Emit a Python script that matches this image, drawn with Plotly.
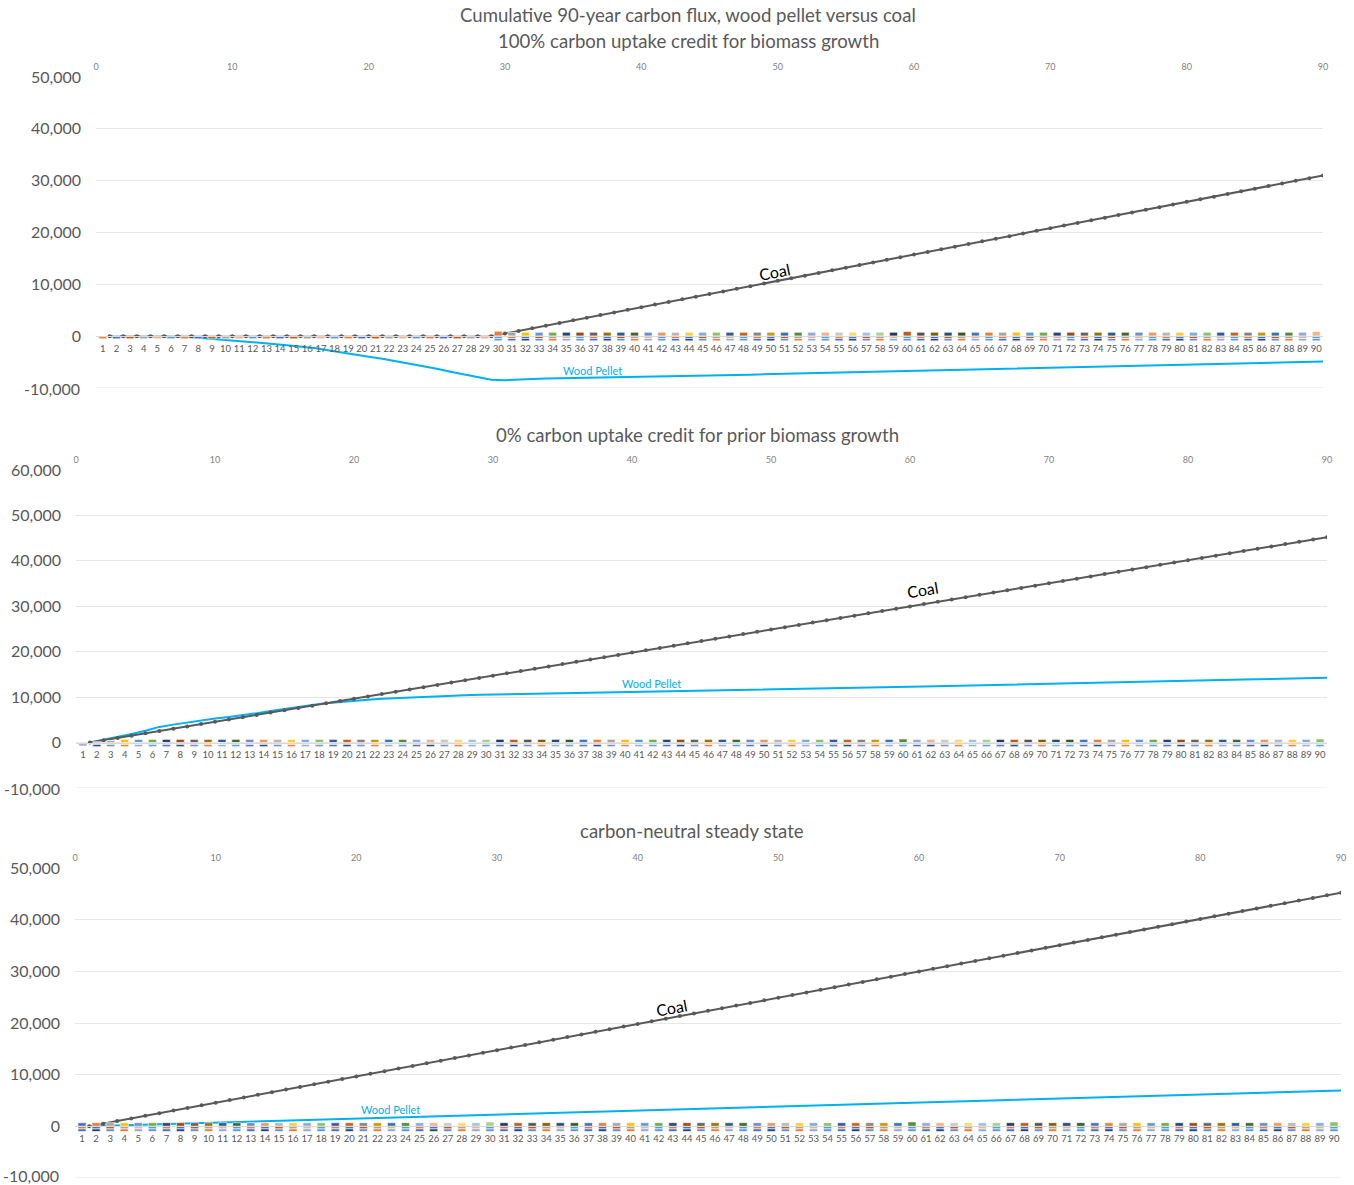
import plotly.graph_objects as go

# ---------------- data ----------------
years = list(range(1, 91))
category_labels = [str(y) for y in years]

# panel 1: 100% carbon uptake credit for biomass growth
coal_credit = [0, 0, 0, 0, 0, 0, 0, 0, 0, 0, 0, 0, 0, 0, 0, 0, 0, 0, 0, 0,
               0, 0, 0, 0, 0, 0, 0, 0, 0, 510, 1020, 1520, 2030, 2540, 3050, 3560, 4060, 4570, 5080, 5590,
               6100, 6600, 7110, 7620, 8130, 8640, 9140, 9650, 10160, 10670, 11180, 11680, 12190, 12700, 13210,
               13720, 14220, 14730, 15240, 15750, 16260, 16760, 17270, 17780, 18290, 18800, 19300, 19810, 20320,
               20830, 21340, 21840, 22350, 22860, 23370, 23880, 24380, 24890, 25400, 25910, 26420, 26920, 27430,
               27940, 28450, 28960, 29460, 29970, 30480, 30990]
pellet_credit = [0, 0, 0, 0, 0, -50, -200, -400, -600, -850,
                 -1050, -1250, -1500, -1750, -2000, -2300, -2700, -3150, -3550, -3950,
                 -4350, -4800, -5300, -5800, -6300, -6850, -7400, -7950, -8400, -8500,
                 -8350, -8250, -8180, -8130, -8090, -8050, -8010, -7970, -7930, -7890,
                 -7840, -7780, -7720, -7660, -7600, -7540, -7480, -7420, -7360, -7300,
                 -7240, -7180, -7120, -7060, -7000, -6940, -6880, -6820, -6760, -6700,
                 -6640, -6580, -6520, -6460, -6400, -6340, -6280, -6220, -6160, -6100,
                 -6040, -5980, -5920, -5860, -5800, -5740, -5680, -5620, -5560, -5500,
                 -5440, -5380, -5320, -5260, -5200, -5140, -5080, -5020, -4960, -4900]

# panels 2 and 3: coal (no prior-growth credit)
coal_no_credit = [0, 508, 1016, 1524, 2032, 2540, 3048, 3556, 4064, 4572,
                  5080, 5588, 6096, 6604, 7112, 7620, 8128, 8636, 9144, 9652,
                  10160, 10668, 11176, 11684, 12192, 12700, 13208, 13716, 14224, 14732,
                  15240, 15748, 16256, 16764, 17272, 17780, 18288, 18796, 19304, 19812,
                  20320, 20828, 21336, 21844, 22352, 22860, 23368, 23876, 24384, 24892,
                  25400, 25908, 26416, 26924, 27432, 27940, 28448, 28956, 29464, 29972,
                  30480, 30988, 31496, 32004, 32512, 33020, 33528, 34036, 34544, 35052,
                  35560, 36068, 36576, 37084, 37592, 38100, 38608, 39116, 39624, 40132,
                  40640, 41148, 41656, 42164, 42672, 43180, 43688, 44196, 44704, 45212]
pellet_no_credit = [0, 600, 1250, 1900, 2600, 3450, 3950, 4450, 4900, 5300,
                    5650, 6000, 6450, 6950, 7450, 7900, 8300, 8650, 8950, 9200,
                    9450, 9650, 9800, 9950, 10100, 10200, 10300, 10400, 10500, 10600,
                    10650, 10700, 10750, 10800, 10850, 10900, 10950, 11000, 11050, 11100,
                    11150, 11200, 11250, 11300, 11350, 11400, 11450, 11500, 11550, 11600,
                    11670, 11740, 11800, 11870, 11940, 12000, 12070, 12140, 12200, 12270,
                    12340, 12400, 12470, 12540, 12600, 12670, 12740, 12800, 12870, 12940,
                    13000, 13070, 13140, 13200, 13270, 13340, 13400, 13470, 13540, 13600,
                    13670, 13740, 13800, 13870, 13940, 14000, 14070, 14140, 14200, 14270]
pellet_steady = [0, 80, 150, 230, 310, 390, 470, 550, 620, 700,
                 780, 860, 940, 1010, 1090, 1170, 1250, 1330, 1400, 1480,
                 1560, 1640, 1720, 1790, 1870, 1950, 2030, 2110, 2180, 2260,
                 2340, 2420, 2500, 2570, 2650, 2730, 2810, 2890, 2960, 3040,
                 3120, 3200, 3280, 3350, 3430, 3510, 3590, 3670, 3740, 3820,
                 3900, 3980, 4060, 4130, 4210, 4290, 4370, 4450, 4520, 4600,
                 4680, 4760, 4840, 4910, 4990, 5070, 5150, 5230, 5300, 5380,
                 5460, 5540, 5620, 5690, 5770, 5850, 5930, 6010, 6080, 6160,
                 6240, 6320, 6400, 6470, 6550, 6630, 6710, 6790, 6860, 6940]

# small stacked annual flux columns (cap above zero, two segments below)
flux_up_1 = [0, 0, 0, 0, 0, 0, 0, 0, 0, 0, 0, 0, 0, 0, 0, 0, 0, 0, 0, 0,
             0, 0, 0, 0, 0, 0, 0, 0, 0, 950, 750, 750, 750, 750, 750, 750, 750, 750, 750, 750,
             750, 750, 750, 750, 750, 750, 750, 750, 750, 750, 750, 750, 750, 750, 750, 750, 750, 750, 750, 900,
             750, 750, 750, 750, 750, 750, 750, 750, 750, 750, 750, 750, 750, 750, 750, 750, 750, 750, 750, 750,
             750, 750, 750, 750, 750, 750, 750, 750, 750, 900]
flux_mid_1 = [-500, -500, -500, -500, -500, -500, -500, -500, -500, -500, -500, -500, -500, -500, -500,
              -500, -500, -500, -500, -500, -500, -500, -500, -500, -500, -500, -500, -500, -500,
              -450, -450, -450, -450, -450, -450, -450, -450, -450, -450, -450, -450, -450, -450, -450,
              -450, -450, -450, -450, -450, -450, -450, -450, -450, -450, -450, -450, -450, -450, -450,
              -450, -450, -450, -450, -450, -450, -450, -450, -450, -450, -450, -450, -450, -450, -450,
              -450, -450, -450, -450, -450, -450, -450, -450, -450, -450, -450, -450, -450, -450, -450, -450]
flux_low_1 = [0, 0, 0, 0, 0, 0, 0, 0, 0, 0, 0, 0, 0, 0, 0, 0, 0, 0, 0, 0,
              0, 0, 0, 0, 0, 0, 0, 0, 0, -450, -450, -450, -450, -450, -450, -450, -450, -450, -450, -450,
              -450, -450, -450, -450, -450, -450, -450, -450, -450, -450, -450, -450, -450, -450, -450,
              -450, -450, -450, -450, -450, -450, -450, -450, -450, -450, -450, -450, -450, -450, -450,
              -450, -450, -450, -450, -450, -450, -450, -450, -450, -450, -450, -450, -450, -450, -450,
              -450, -450, -450, -450, -450, -450]
flux_up_2 = [0, 200, 450, 700, 700, 700, 700, 700, 700, 700, 700, 700, 700, 700, 700, 700, 700, 700, 700, 700,
             700, 700, 700, 700, 700, 700, 700, 700, 700, 700, 700, 700, 700, 700, 700, 700, 700, 700, 700, 700,
             700, 700, 700, 700, 700, 700, 700, 700, 700, 700, 700, 700, 700, 700, 700, 700, 700, 700, 700, 800,
             700, 700, 700, 700, 700, 700, 700, 700, 700, 700, 700, 700, 700, 700, 700, 700, 700, 700, 700, 700,
             700, 700, 700, 700, 700, 700, 700, 700, 700, 800]
flux_mid_2 = [-350, -450, -450, -450, -450, -450, -450, -450, -450, -450, -450, -450, -450, -450, -450,
              -450, -450, -450, -450, -450, -450, -450, -450, -450, -450, -450, -450, -450, -450, -450,
              -450, -450, -450, -450, -450, -450, -450, -450, -450, -450, -450, -450, -450, -450, -450,
              -450, -450, -450, -450, -450, -450, -450, -450, -450, -450, -450, -450, -450, -450, -450,
              -450, -450, -450, -450, -450, -450, -450, -450, -450, -450, -450, -450, -450, -450, -450,
              -450, -450, -450, -450, -450, -450, -450, -450, -450, -450, -450, -450, -450, -450, -450]
flux_low_2 = [-350, -450, -450, -450, -450, -450, -450, -450, -450, -450, -450, -450, -450, -450, -450,
              -450, -450, -450, -450, -450, -450, -450, -450, -450, -450, -450, -450, -450, -450, -450,
              -450, -450, -450, -450, -450, -450, -450, -450, -450, -450, -450, -450, -450, -450, -450,
              -450, -450, -450, -450, -450, -450, -450, -450, -450, -450, -450, -450, -450, -450, -450,
              -450, -450, -450, -450, -450, -450, -450, -450, -450, -450, -450, -450, -450, -450, -450,
              -450, -450, -450, -450, -450, -450, -450, -450, -450, -450, -450, -450, -450, -450, -450]
flux_up_3 = [700, 700, 700, 700, 700, 700, 700, 700, 700, 700, 700, 700, 700, 700, 700, 700, 700, 700, 700, 700,
             700, 700, 700, 700, 700, 700, 700, 700, 700, 850, 700, 700, 700, 700, 700, 700, 700, 700, 700, 700,
             700, 700, 700, 700, 700, 700, 700, 700, 700, 700, 700, 700, 700, 700, 700, 700, 700, 700, 700, 850,
             700, 700, 700, 700, 700, 700, 700, 700, 700, 700, 700, 700, 700, 700, 700, 700, 700, 700, 700, 700,
             700, 700, 700, 700, 700, 700, 700, 700, 700, 850]
flux_mid_3 = [-500, -500, -500, -500, -500, -500, -500, -500, -500, -500, -500, -500, -500, -500, -500,
              -500, -500, -500, -500, -500, -500, -500, -500, -500, -500, -500, -500, -500, -500, -500,
              -500, -500, -500, -500, -500, -500, -500, -500, -500, -500, -500, -500, -500, -500, -500,
              -500, -500, -500, -500, -500, -500, -500, -500, -500, -500, -500, -500, -500, -500, -500,
              -500, -500, -500, -500, -500, -500, -500, -500, -500, -500, -500, -500, -500, -500, -500,
              -500, -500, -500, -500, -500, -500, -500, -500, -500, -500, -500, -500, -500, -500, -500]
flux_low_3 = [-500, -500, -500, -500, -500, -500, -500, -500, -500, -500, -500, -500, -500, -500, -500,
              -500, -500, -500, -500, -500, -500, -500, -500, -500, -500, -500, -500, -500, -500, -500,
              -500, -500, -500, -500, -500, -500, -500, -500, -500, -500, -500, -500, -500, -500, -500,
              -500, -500, -500, -500, -500, -500, -500, -500, -500, -500, -500, -500, -500, -500, -500,
              -500, -500, -500, -500, -500, -500, -500, -500, -500, -500, -500, -500, -500, -500, -500,
              -500, -500, -500, -500, -500, -500, -500, -500, -500, -500, -500, -500, -500, -500, -500]

titles = ["Cumulative 90-year carbon flux, wood pellet versus coal<br>100% carbon uptake credit for biomass growth",
          "0% carbon uptake credit for prior biomass growth",
          "carbon-neutral steady state"]

# ---------------- styles ----------------
W, H = 1354, 1185
FONT = "Lato"
GRAY = "#595959"
palette = ["#4472C4", "#ED7D31", "#A5A5A5", "#FFC000", "#5B9BD5", "#70AD47",
           "#264478", "#9E480E", "#636363", "#997300", "#255E91", "#43682B",
           "#698ED0", "#F1975A", "#B7B7B7", "#FFCD33", "#7CAFDD", "#8CC168",
           "#335AA1", "#D26012", "#848484", "#CC9A00", "#3275B2", "#5A8A39",
           "#8FAADC", "#F4B183", "#C9C9C9", "#FFD966", "#9DC3E6", "#A9D18E",
           "#203864", "#C55A11", "#525252", "#7F6000", "#1F4E79", "#385723"]
oranges = ["#ED7D31", "#4472C4", "#C55A11", "#A5A5A5", "#F4B183", "#5B9BD5"]
blues = ["#4472C4", "#264478", "#698ED0", "#ED7D31", "#8FAADC", "#5B9BD5"]

panels = [
    dict(xd=(96, 1323), yd=(77, 388), yr=(-10000, 50000), coal=coal_credit, pellet=pellet_credit,
         up=flux_up_1, mid=flux_mid_1, low=flux_low_1, title_y=[15, 41], title_x=688,
         coal_lbl=(49.8, 12400, -11), wp_lbl=(36.4, -6700), cap_shift=28),
    dict(xd=(76, 1327), yd=(470, 788), yr=(-10000, 60000), coal=coal_no_credit, pellet=pellet_no_credit,
         up=flux_up_2, mid=flux_mid_2, low=flux_low_2, title_y=[435], title_x=697,
         coal_lbl=(60.9, 33700, -9.5), wp_lbl=(41.4, 13100), cap_shift=0),
    dict(xd=(75, 1341), yd=(868, 1178), yr=(-10000, 50000), coal=coal_no_credit, pellet=pellet_steady,
         up=flux_up_3, mid=flux_mid_3, low=flux_low_3, title_y=[831], title_x=692,
         coal_lbl=(42.4, 23000, -10.5), wp_lbl=(22.4, 3300), cap_shift=0),
]

fig = go.Figure()
layout = dict(width=W, height=H, margin=dict(l=0, r=0, t=0, b=0, autoexpand=False),
              paper_bgcolor="white", plot_bgcolor="white", showlegend=False,
              barmode="relative", font=dict(family=FONT, color=GRAY))
annotations = []
cat_pos = [y - 0.5 for y in years]

for i, p in enumerate(panels):
    top_ax = 2 * i + 1
    cat_ax = 2 * i + 2
    yi = i + 1
    tx = "x" if top_ax == 1 else f"x{top_ax}"
    cx = f"x{cat_ax}"
    yy = "y" if yi == 1 else f"y{yi}"
    xdom = [p["xd"][0] / W, p["xd"][1] / W]
    ydom = [1 - p["yd"][1] / H, 1 - p["yd"][0] / H]
    ymin, ymax = p["yr"]
    zero_pos = ydom[0] + (0 - ymin) / (ymax - ymin) * (ydom[1] - ydom[0])
    ytv = list(range(ymin + 10000, ymax + 1, 10000))
    ytt = [f"{v:,}" for v in ytv]

    layout["xaxis" if top_ax == 1 else f"xaxis{top_ax}"] = dict(
        domain=xdom, anchor=yy, side="top", range=[0, 90], tickvals=list(range(0, 91, 10)),
        showgrid=False, zeroline=False, showline=False, ticks="", automargin=False,
        tickfont=dict(size=9, color="#7f7f7f", family=FONT), ticklabelstandoff=4, fixedrange=True)
    layout[f"xaxis{cat_ax}"] = dict(
        overlaying=tx, anchor="free", position=zero_pos, side="bottom", range=[0, 90],
        tickvals=cat_pos, ticktext=category_labels, showgrid=False, zeroline=False,
        showline=True, linecolor="#d9d9d9", linewidth=1, ticks="", automargin=False,
        tickfont=dict(size=9.5, color=GRAY, family=FONT), ticklabelstandoff=3, tickangle=0)
    layout["yaxis" if yi == 1 else f"yaxis{yi}"] = dict(
        domain=ydom, anchor=tx, range=[ymin, ymax], tickvals=ytv, ticktext=ytt,
        showgrid=True, gridcolor="#e6e6e6", gridwidth=1, zeroline=False, showline=False, ticks="",
        automargin=False, tickfont=dict(size=16, color=GRAY, family=FONT), ticklabelstandoff=14)

    # bottom gridline + its label (the lowest tick sits on the plot edge)
    layout.setdefault("shapes", []).append(dict(
        type="line", xref=f"{tx} domain", yref=yy, x0=0, x1=1, y0=ymin, y1=ymin,
        line=dict(color="#e6e6e6", width=1), layer="below"))
    last = (i == len(panels) - 1)
    annotations.append(dict(text=f"{ymin:,}", xref="paper", yref=yy, x=(p["xd"][0] - 14) / W, y=ymin,
                            xanchor="right", yanchor="bottom" if last else "middle",
                            yshift=-9 if last else 0, showarrow=False,
                            font=dict(size=16, color=GRAY, family=FONT)))

    cap_colors = [palette[(y - 1 - p["cap_shift"]) % len(palette)] for y in years]
    mid_colors = [oranges[(y - 1) % len(oranges)] for y in years]
    low_colors = [blues[(y - 1) % len(blues)] for y in years]
    for vals, cols in ((p["up"], cap_colors), (p["mid"], mid_colors), (p["low"], low_colors)):
        fig.add_trace(go.Bar(x=cat_pos, y=vals, xaxis=cx, yaxis=yy, width=0.58,
                             marker=dict(color=cols, line=dict(color="white", width=0.6)),
                             hoverinfo="skip"))

    fig.add_trace(go.Scatter(x=years, y=p["pellet"], xaxis=tx, yaxis=yy, mode="lines",
                             line=dict(color="#00B0F0", width=2), name="Wood Pellet"))
    fig.add_trace(go.Scatter(x=years, y=p["coal"], xaxis=tx, yaxis=yy, mode="lines+markers",
                             line=dict(color="#595959", width=2),
                             marker=dict(color="#595959", size=4), name="Coal"))

    # titles
    for ty, txt in zip(p["title_y"], titles[i].split("<br>")):
        annotations.append(dict(text=txt, xref="paper", yref="paper", x=p["title_x"] / W,
                                y=1 - ty / H, xanchor="center", yanchor="middle", showarrow=False,
                                font=dict(size=18.6, color=GRAY, family=FONT)))
    cx_, cy_, ang = p["coal_lbl"]
    annotations.append(dict(text="Coal", xref=tx, yref=yy, x=cx_, y=cy_, showarrow=False,
                            textangle=ang, font=dict(size=16, color="black", family=FONT)))
    wx, wy = p["wp_lbl"]
    annotations.append(dict(text="Wood Pellet", xref=tx, yref=yy, x=wx, y=wy, showarrow=False,
                            font=dict(size=11, color="#00B0F0", family=FONT)))

layout["annotations"] = annotations
fig.update_layout(**layout)
fig.write_html("out.html")
